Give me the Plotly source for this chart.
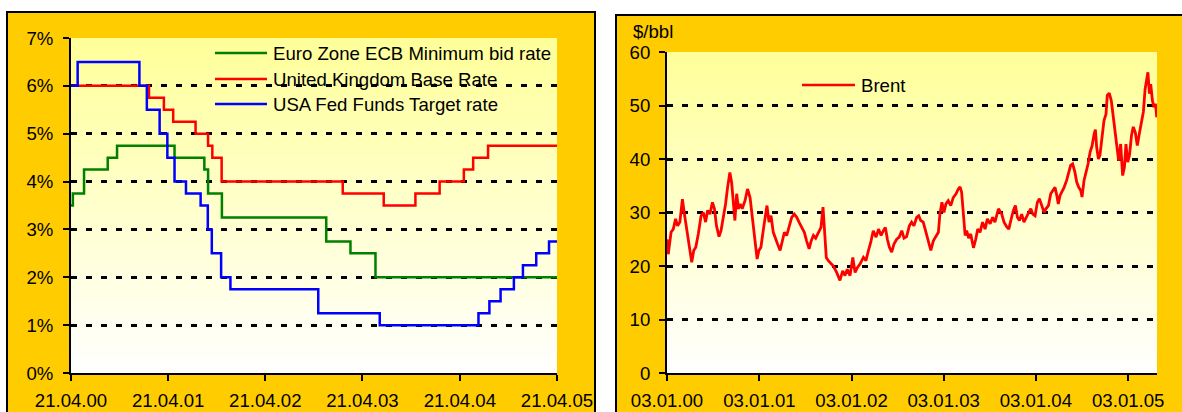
import plotly.graph_objects as go
import pandas as pd

W, H = 1182, 412

# ---------------- Left chart: official interest rates (step changes) ----------------
ecb_dates = ["2000-04-21", "2000-04-28", "2000-06-09", "2000-09-06", "2000-10-11",
             "2001-05-15", "2001-09-04", "2001-09-18", "2001-11-09", "2002-12-06",
             "2003-03-07", "2003-06-09", "2005-04-21"]
ecb_rates = [3.50, 3.75, 4.25, 4.50, 4.75, 4.50, 4.25, 3.75, 3.25, 2.75, 2.50, 2.00, 2.00]

uk_dates = ["2000-04-21", "2001-02-08", "2001-04-05", "2001-05-10", "2001-08-02",
            "2001-09-18", "2001-10-04", "2001-11-08", "2003-02-06", "2003-07-10",
            "2003-11-06", "2004-02-05", "2004-05-06", "2004-06-10", "2004-08-05",
            "2005-04-21"]
uk_rates = [6.00, 5.75, 5.50, 5.25, 5.00, 4.75, 4.50, 4.00, 3.75, 3.50, 3.75, 4.00,
            4.25, 4.50, 4.75, 4.75]

us_dates = ["2000-04-21", "2000-05-16", "2001-01-03", "2001-01-31", "2001-03-20",
            "2001-04-18", "2001-05-15", "2001-06-27", "2001-08-21", "2001-09-17",
            "2001-10-02", "2001-11-06", "2001-12-11", "2002-11-06", "2003-06-25",
            "2004-06-30", "2004-08-10", "2004-09-21", "2004-11-10", "2004-12-14",
            "2005-02-02", "2005-03-22", "2005-04-21"]
us_rates = [6.00, 6.50, 6.00, 5.50, 5.00, 4.50, 4.00, 3.75, 3.50, 3.00, 2.50, 2.00,
            1.75, 1.25, 1.00, 1.25, 1.50, 1.75, 2.00, 2.25, 2.50, 2.75, 2.75]

rate_names = ["Euro Zone ECB Minimum bid rate", "United Kingdom Base Rate",
              "USA Fed Funds Target rate"]
rate_colors = ["#008000", "#FF0000", "#0000FF"]

left_tick_dates = ["2000-04-21", "2001-04-21", "2002-04-21", "2003-04-21",
                   "2004-04-21", "2005-04-21"]
left_tick_text = ["21.04.00", "21.04.01", "21.04.02", "21.04.03", "21.04.04", "21.04.05"]
left_y_ticks = [0, 1, 2, 3, 4, 5, 6, 7]
left_y_text = ["0%", "1%", "2%", "3%", "4%", "5%", "6%", "7%"]

# ---------------- Right chart: Brent ($/bbl), days after 03.01.2000 ----------------
brent_start = "2000-01-03"
brent_days = [
    0, 5, 16, 25, 34, 42, 51, 61, 69, 78, 87, 98, 106, 114, 124, 135, 144, 153, 161,
    170, 180, 188, 196, 206, 214, 223, 232, 240, 249, 256, 264, 269, 276, 283, 290,
    298, 309, 319, 329, 335, 343, 349, 357, 364, 372, 382, 391, 396, 404, 412, 421,
    430, 438, 448, 457, 465, 474, 483, 494, 504, 514, 523, 533, 544, 553, 563, 571,
    580, 589, 600, 610, 618, 623, 631, 639, 650,
    659, 672, 685, 696, 705, 714, 725, 736, 745, 754, 765, 778, 788, 798, 807, 817,
    828, 838, 848, 857, 865, 873, 881, 890, 899, 910, 920, 930, 939, 949, 960, 969,
    978, 989, 997, 1005, 1015, 1026, 1035, 1045, 1055, 1066, 1075, 1081, 1089, 1097,
    1105, 1114, 1124, 1134, 1145, 1154, 1161, 1167, 1174, 1181, 1187, 1195, 1203,
    1214, 1223, 1231, 1240, 1250, 1260, 1269, 1280, 1290, 1299, 1313,
    1326, 1335, 1346, 1354, 1362, 1372, 1380, 1388, 1396, 1405, 1414, 1425, 1433,
    1441, 1449, 1458, 1467, 1475, 1484, 1494, 1501, 1511, 1520, 1528, 1537, 1544,
    1550, 1557, 1564, 1573, 1583, 1591, 1599, 1607, 1616, 1623, 1631, 1639, 1644,
    1652, 1660, 1668, 1676, 1684, 1692, 1697, 1702, 1709, 1715, 1723, 1731, 1739,
    1744, 1752, 1760, 1768, 1776, 1784, 1789, 1797, 1805, 1812, 1818, 1825, 1832,
    1840, 1847, 1855, 1863, 1871, 1879, 1887, 1894, 1900, 1905, 1911, 1916, 1923,
    1929, 1935, 1940]
brent_price = [
    25.0, 22.2, 26.3, 26.9, 28.8, 27.5, 28.2, 32.5, 29.7, 26.6, 23.8, 20.7, 22.9,
    23.5, 26.0, 29.4, 30.0, 28.2, 30.4, 29.7, 31.9, 30.7, 27.5, 25.5, 26.6, 29.1,
    31.6, 34.7, 37.5, 35.6, 31.0, 28.5, 33.5, 30.7, 31.6, 30.7, 32.2, 34.4, 32.8,
    30.3, 27.2, 24.7, 21.3, 22.9, 23.5, 26.9, 30.3, 31.3, 28.2, 29.4, 26.3, 25.0,
    24.1, 22.9, 25.0, 26.3, 25.7, 27.5, 29.1, 29.7, 29.1, 28.2, 27.2, 26.3, 24.7,
    23.2, 24.7, 25.7, 25.2, 26.3, 27.2, 31.0, 27.9, 21.6, 21.0, 20.4,
    20.0, 18.8, 17.3, 19.1, 18.2, 19.4, 18.2, 21.6, 18.8, 19.7, 20.4, 21.6, 21.0,
    22.9, 24.4, 26.6, 25.4, 26.9, 25.7, 26.6, 27.2, 25.0, 23.5, 22.6, 24.1, 25.0,
    25.4, 26.6, 25.2, 25.5, 27.5, 28.2, 27.5, 29.1, 29.4, 28.5, 28.2, 26.3, 24.4,
    22.9, 24.7, 25.7, 26.3, 29.7, 31.9, 30.0, 31.6, 32.2, 31.3, 32.8, 33.5, 34.4,
    34.8, 33.8, 28.8, 25.7, 26.6, 25.2, 26.0, 23.4, 25.0, 26.9, 26.3, 28.2, 26.9,
    28.8, 27.9, 29.1, 28.2, 30.7,
    29.7, 28.2, 27.3, 26.9, 28.5, 30.4, 31.3, 29.1, 28.5, 29.7, 28.2, 29.4, 30.0,
    30.7, 29.7, 29.4, 31.9, 32.6, 31.3, 30.0, 30.7, 31.3, 33.5, 34.1, 34.7, 33.2,
    31.6, 33.2, 33.8, 34.7, 36.0, 37.2, 38.8, 39.1, 37.5, 35.7, 34.7, 34.1, 32.9,
    36.0, 37.5, 39.1, 41.3, 42.5, 44.7, 45.5, 42.2, 40.0, 40.7, 43.8, 47.2, 48.4,
    51.9, 52.3, 50.9, 47.8, 44.4, 42.2, 39.7, 42.8, 36.9, 38.5, 42.8, 39.4, 40.7,
    44.4, 46.0, 45.0, 42.5, 44.7, 46.6, 48.8, 53.1, 54.7, 56.2, 52.2, 54.0, 50.9,
    49.7, 50.3, 47.8]

right_tick_dates = ["2000-01-03", "2001-01-03", "2002-01-03", "2003-01-03",
                    "2004-01-03", "2005-01-03"]
right_tick_text = ["03.01.00", "03.01.01", "03.01.02", "03.01.03", "03.01.04", "03.01.05"]
right_y_ticks = [0, 10, 20, 30, 40, 50, 60]

brent_dates = [pd.Timestamp(brent_start) + pd.Timedelta(days=d) for d in brent_days]

# ---------------- Figure ----------------
FONT = "Liberation Sans, Arial, sans-serif"
FS = 18.6
ORANGE = "#FFCC00"

fig = go.Figure()
for d, r, n, c in zip([ecb_dates, uk_dates, us_dates], [ecb_rates, uk_rates, us_rates],
                      rate_names, rate_colors):
    fig.add_trace(go.Scatter(x=d, y=r, name=n, mode="lines", xaxis="x", yaxis="y",
                             line=dict(color=c, width=2.5, shape="hv"),
                             showlegend=False))
fig.add_trace(go.Scatter(x=brent_dates, y=brent_price, name="Brent", mode="lines",
                         xaxis="x2", yaxis="y2", line=dict(color="#FF0000", width=2.8),
                         showlegend=False))

L_X = [71 / W, 557 / W]
L_Y = [39 / H, 374 / H]
R_X = [667 / W, 1157 / W]
R_Y = [39 / H, 360 / H]

axis_common = dict(showline=True, linecolor="black", linewidth=2, ticks="outside",
                   ticklen=6, tickwidth=2, tickcolor="black", zeroline=False,
                   automargin=False,
                   tickfont=dict(family=FONT, size=FS, color="black"))
grid = dict(showgrid=True, gridcolor="black", gridwidth=2.5, griddash="6px,9px")

fig.update_layout(
    width=W, height=H, margin=dict(l=0, r=0, t=0, b=0, autoexpand=False),
    paper_bgcolor="white", plot_bgcolor="rgba(0,0,0,0)",
    font=dict(family=FONT, size=FS, color="black"),
    showlegend=False,
    xaxis=dict(domain=L_X, anchor="y", type="date",
               range=[left_tick_dates[0], left_tick_dates[-1]],
               tickvals=left_tick_dates, ticktext=left_tick_text, showgrid=False,
               ticklabelstandoff=4, **axis_common),
    yaxis=dict(domain=L_Y, anchor="x", range=[0, 7], tickvals=left_y_ticks,
               ticktext=left_y_text, ticklabelstandoff=6, **grid, **axis_common),
    xaxis2=dict(domain=R_X, anchor="y2", type="date",
                range=["2000-01-03", "2005-04-27"],
                tickvals=right_tick_dates, ticktext=right_tick_text, showgrid=False,
                ticklabelstandoff=4, **axis_common),
    yaxis2=dict(domain=R_Y, anchor="x2", range=[0, 60], tickvals=right_y_ticks,
                ticklabelstandoff=5, **grid, **axis_common),
)

shapes = []
# panel frames
shapes.append(dict(type="rect", xref="paper", yref="paper", x0=7 / W, x1=595 / W,
                   y0=-0.1, y1=(H - 12) / H, fillcolor=ORANGE,
                   line=dict(color="black", width=2), layer="below"))
shapes.append(dict(type="rect", xref="paper", yref="paper", x0=616 / W, x1=1.1,
                   y0=-0.1, y1=(H - 15) / H, fillcolor=ORANGE,
                   line=dict(color="black", width=2), layer="below"))


# gradient plot backgrounds (light yellow at top to white at bottom)
def gradient(xd, yd, n=90):
    out = []
    step = (yd[1] - yd[0]) / n
    for i in range(n):
        t = (i + 0.5) / n  # 0 bottom, 1 top
        b = int(round(255 - 102 * t))
        y0 = yd[0] + step * i
        y1 = min(yd[1], y0 + 2.5 * step)
        out.append(dict(type="rect", xref="paper", yref="paper", x0=xd[0], x1=xd[1],
                        y0=y0, y1=y1, fillcolor=f"rgb(255,255,{b})", line=dict(width=0),
                        layer="below"))
    return out


shapes += gradient(L_X, L_Y)
shapes += gradient(R_X, R_Y)

# manual legends
legend_rows_y = [53, 79, 104]
for yy, c in zip(legend_rows_y, rate_colors):
    shapes.append(dict(type="line", xref="paper", yref="paper", x0=215 / W, x1=267 / W,
                       y0=(H - yy) / H, y1=(H - yy) / H, line=dict(color=c, width=2.5)))
shapes.append(dict(type="line", xref="paper", yref="paper", x0=802 / W, x1=855 / W,
                   y0=(H - 85) / H, y1=(H - 85) / H, line=dict(color="#FF0000", width=2.5)))

annotations = []
for yy, n in zip(legend_rows_y, rate_names):
    annotations.append(dict(text=n, xref="paper", yref="paper", x=271 / W, y=(H - yy) / H,
                            xanchor="left", yanchor="middle", showarrow=False,
                            font=dict(family=FONT, size=FS, color="black")))
annotations.append(dict(text="Brent", xref="paper", yref="paper", x=859 / W,
                        y=(H - 85) / H, xanchor="left", yanchor="middle", showarrow=False,
                        font=dict(family=FONT, size=FS, color="black")))
annotations.append(dict(text="$/bbl", xref="paper", yref="paper", x=631 / W,
                        y=(H - 32) / H, xanchor="left", yanchor="middle", showarrow=False,
                        font=dict(family=FONT, size=FS, color="black")))

fig.update_layout(shapes=shapes, annotations=annotations)
fig.write_html("out.html", config={"displayModeBar": False},
               post_script="document.body.style.margin='0';document.body.style.padding='0';")
